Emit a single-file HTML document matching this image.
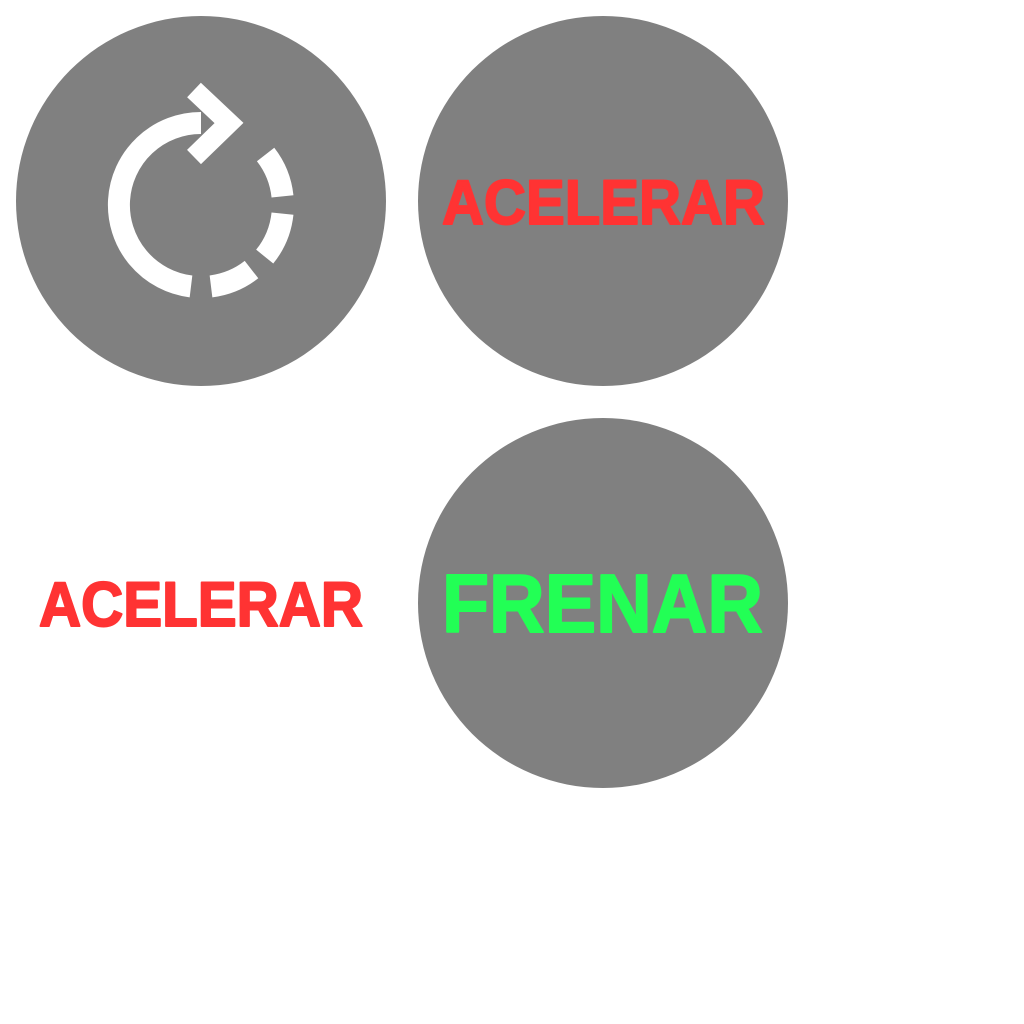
<!DOCTYPE html>
<html><head><meta charset="utf-8"><style>
html,body{margin:0;padding:0;background:#fff;width:1024px;height:1024px;overflow:hidden}
svg{display:block}
text{font-family:"Liberation Sans",sans-serif;font-weight:bold;stroke-width:2;stroke-linejoin:round}
</style></head><body>
<svg width="1024" height="1024" viewBox="0 0 1024 1024">
  <g>
    <circle cx="201" cy="201" r="185" fill="#808080"/>
    <g fill="none" stroke="#fff" stroke-width="22">
      <path d="M 191 286.4 A 82 82 0 0 1 201 123"/>
      <path d="M 265.6 154.5 A 82 82 0 0 1 282.5 196.4"/>
      <path d="M 282.5 213.6 A 82 82 0 0 1 264.7 256.6"/>
      <path d="M 251.5 269.6 A 82 82 0 0 1 211 286.4"/>
      <polyline points="194,90 229,123 194,157" stroke-width="20" stroke-linejoin="miter"/>
    </g>
  </g>
  <g>
    <circle cx="603" cy="201" r="185" fill="#808080"/>
    <text x="442" y="224" font-size="63" fill="#FF3333" stroke="#FF3333" textLength="323" lengthAdjust="spacingAndGlyphs">ACELERAR</text>
  </g>
  <text x="39" y="626" font-size="63" fill="#FF3333" stroke="#FF3333" textLength="324" lengthAdjust="spacingAndGlyphs">ACELERAR</text>
  <g>
    <circle cx="603" cy="603" r="185" fill="#808080"/>
    <text x="442" y="632" font-size="83" fill="#22FF55" stroke="#22FF55" textLength="321" lengthAdjust="spacingAndGlyphs">FRENAR</text>
  </g>
</svg>
</body></html>
